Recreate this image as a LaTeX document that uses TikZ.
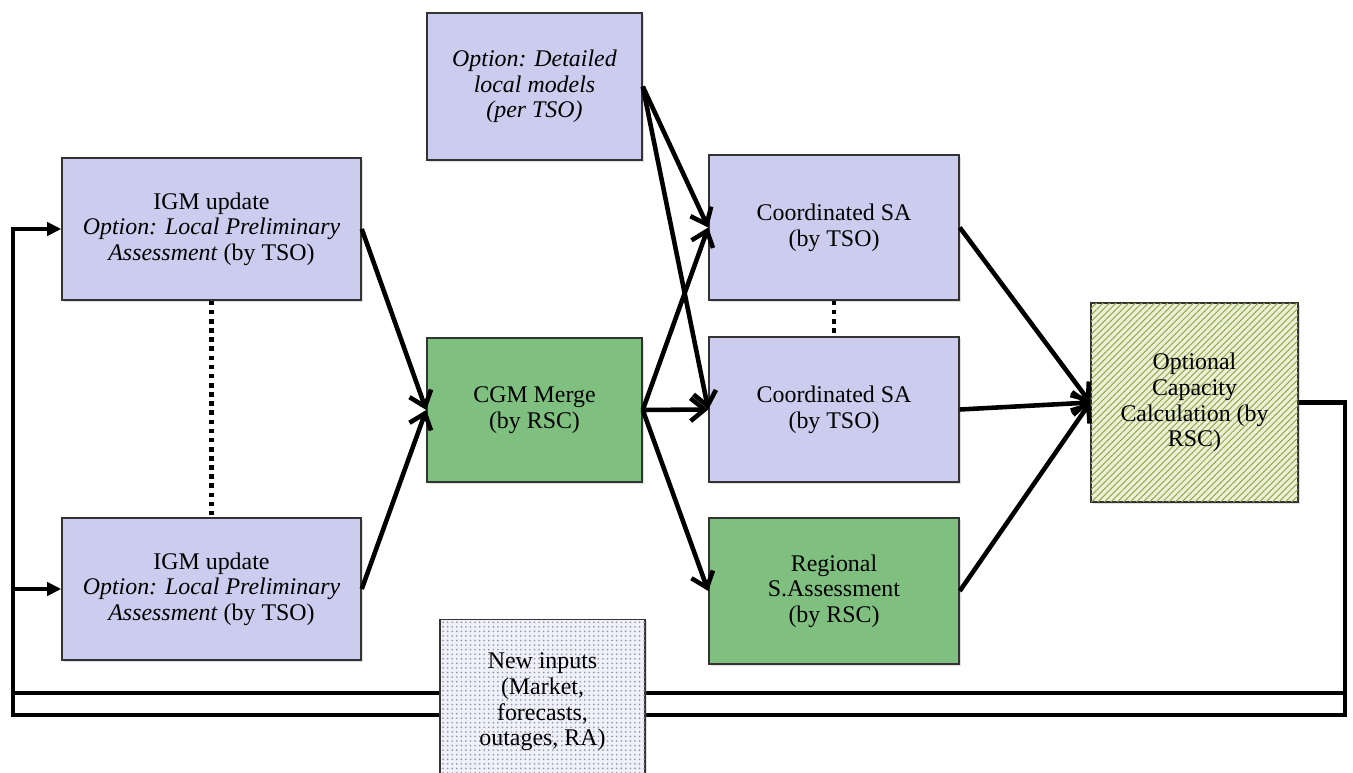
\documentclass[tikz,border=0pt]{standalone}
\usepackage{fontspec}
\setmainfont{Liberation Serif}
\usetikzlibrary{arrows.meta, patterns.meta, shadows}

\definecolor{lavbox}{RGB}{204,204,238}
\definecolor{grnbox}{RGB}{127,191,127}
\definecolor{hatchbg}{RGB}{236,240,218}
\definecolor{hatchln}{RGB}{150,172,70}
\definecolor{dotbg}{RGB}{240,240,248}
\definecolor{dotfg}{RGB}{150,150,175}

\tikzset{
	box/.style={draw=black!80, line width=0.9pt, align=center, inner sep=2pt,
		font=\fontsize{13.6}{14.6}\selectfont,
		drop shadow={shadow xshift=1.2pt, shadow yshift=-1.2pt, opacity=0.25}},
	tso/.style={box, fill=lavbox},
	rsc/.style={box, fill=grnbox},
	flow/.style={line width=2.6pt, -{Straight Barb[length=8pt,width=13pt]}},
	fb/.style={line width=2.6pt},
	fbarrow/.style={fb, -{Triangle[length=8pt,width=7.5pt]}},
	dotline/.style={line width=2.6pt, dash pattern=on 2.6pt off 2.6pt},
}

\begin{document}
\begin{tikzpicture}[x=0.02cm, y=-0.02cm]

\useasboundingbox (0,0) rectangle (1353,773);

	\node [tso, minimum width=4.3cm, minimum height=2.94cm] (detail) at (534.5,86.5)
		{\textit{Option: Detailed}\\ \textit{local models}\\ \textit{(per TSO)}};%本地模型
	\node [tso, minimum width=5.98cm, minimum height=2.84cm] (igm1) at (211.5,229)
		{IGM update\\ \textit{Option: Local Preliminary}\\ \textit{Assessment} (by TSO)};%IGM上
	\node [tso, minimum width=5.98cm, minimum height=2.84cm] (igm2) at (211.5,589)
		{IGM update\\ \textit{Option: Local Preliminary}\\ \textit{Assessment} (by TSO)};%IGM下
	\node [rsc, minimum width=4.3cm, minimum height=2.88cm] (cgm) at (534.5,410)
		{CGM Merge\\ (by RSC)};%合并
	\node [tso, minimum width=5cm, minimum height=2.9cm] (coord1) at (834,227.5)
		{Coordinated SA\\ (by TSO)};
	\node [tso, minimum width=5cm, minimum height=2.9cm] (coord2) at (834,409.5)
		{Coordinated SA\\ (by TSO)};
	\node [rsc, minimum width=5cm, minimum height=2.92cm] (reg) at (834,591)
		{Regional\\ S.Assessment\\ (by RSC)};
	\node [box, fill=hatchbg, minimum width=4.14cm, minimum height=3.98cm,
		postaction={pattern={Lines[angle=45,distance=2.6pt,line width=0.6pt]}, pattern color=hatchln}]
		(opt) at (1194.5,402.5) {Optional\\ Capacity\\ Calculation (by\\ RSC)};%容量计算

	\draw [dotline] (igm1.south)--(igm2.north);%虚线
	\draw [dotline] (coord1.south)--(coord2.north);

	\draw [flow] (igm1.east)--(cgm.west);
	\draw [flow] (igm2.east)--(cgm.west);
	\draw [flow] (cgm.east)--(coord1.west);
	\draw [flow] (cgm.east)--(coord2.west);
	\draw [flow] (cgm.east)--(reg.west);
	\draw [flow] (detail.east)--(coord1.west);
	\draw [flow] (detail.east)--(coord2.west);
	\draw [flow] (coord1.east)--(opt.west);
	\draw [flow] (coord2.east)--(opt.west);
	\draw [flow] (reg.east)--(opt.west);

	\coordinate (cornR) at (1345,715);
	\coordinate (cornL) at (13,715);
	\coordinate (midR) at (1345,693);
	\coordinate (midL) at (13,693);
	\draw [fbarrow] (opt.east) -| (cornR) -- (cornL) |- (igm1.west);%反馈回路
	\draw [fbarrow] (cornL |- igm2.west) -- (igm2.west);
	\draw [fb] (midL)--(midR);

	\node [box, fill=dotbg, minimum width=4.1cm, minimum height=3.3cm,
		postaction={pattern={Dots[distance=2.6pt,radius=0.55pt]}, pattern color=dotfg}]
		(inputs) at (542.5,702) {New inputs\\ (Market,\\ forecasts,\\ outages, RA)};%新输入

\end{tikzpicture}
\end{document}
